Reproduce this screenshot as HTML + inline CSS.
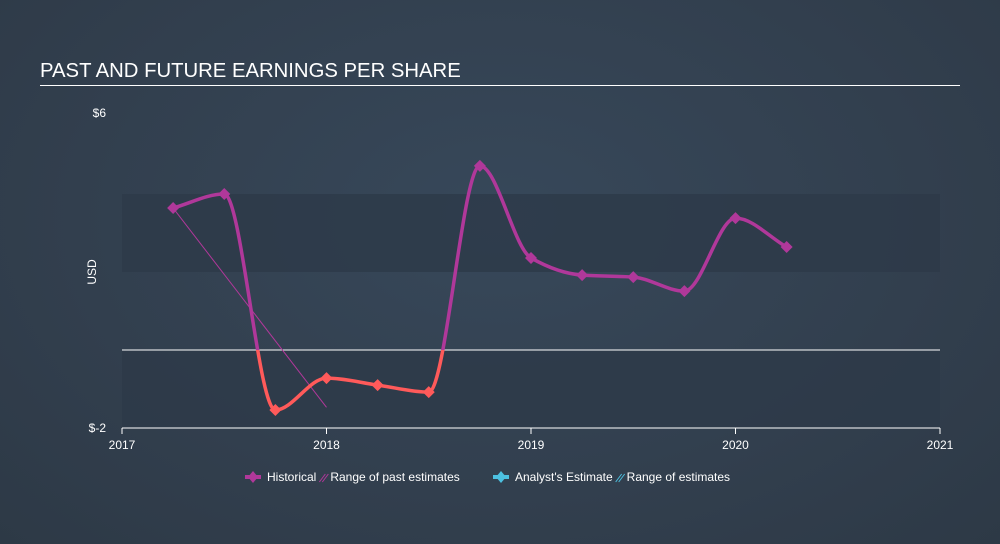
<!DOCTYPE html>
<html><head><meta charset="utf-8"><style>
html,body{margin:0;padding:0;}
body{width:1000px;height:544px;background:radial-gradient(ellipse at 50% 40%,#37485a 0%,#323f4e 60%,#2d3946 100%);font-family:"Liberation Sans",sans-serif;overflow:hidden;position:relative;}
.title{position:absolute;left:40px;top:60px;color:#fff;font-size:20.3px;}
.rule{position:absolute;left:40px;top:85px;width:920px;height:1px;background:#fff;}
</style></head><body>
<div class="title">PAST AND FUTURE EARNINGS PER SHARE</div>
<div class="rule"></div>
<svg id="chart" width="1000" height="544" style="position:absolute;left:0;top:0"></svg>
<script>
const years=[2017.25,2017.5,2017.75,2018.0,2018.25,2018.5,2018.75,2019.0,2019.25,2019.5,2019.75,2020.0,2020.25];
const eps=[3.64,4.0,-1.54,-0.72,-0.9,-1.08,4.72,2.36,1.92,1.87,1.51,3.38,2.64];
const pastRange=[[2017.25,3.64],[2018.0,-1.47]];
const xTicks=[2017,2018,2019,2020,2021];
const yTicks=[6,-2];
const yTickLabels=["$6","$-2"];
const X=v=>122+(v-2017)*204.5;
const Y=v=>350-v*39;
const NS="http://www.w3.org/2000/svg";
const svg=document.getElementById('chart');
function mk(t,a,p){const e=document.createElementNS(NS,t);for(const k in a)e.setAttribute(k,a[k]);(p||svg).appendChild(e);return e;}
let b1=mk('rect',{x:122,y:Y(4),width:818,height:Y(2)-Y(4),fill:'#2d3a48',opacity:0.8});


let b2=mk('rect',{x:122,y:Y(0),width:818,height:Y(-2)-Y(0),fill:'#2d3a48',opacity:0.8});


let z=mk('line',{x1:122,x2:940,y1:Y(0),y2:Y(0),stroke:'#fff','stroke-width':1});


let ax=mk('line',{x1:122,x2:940,y1:Y(-2),y2:Y(-2),stroke:'#fff','stroke-width':1});


xTicks.forEach(t=>{
 const l=mk('line',{x1:X(t),x2:X(t),y1:Y(-2),y2:Y(-2)+6,stroke:'#fff'});
 
 
 const tx=mk('text',{x:X(t),y:449,fill:'#fff','font-size':12,'text-anchor':'middle'});
 tx.textContent=t;
 
 
});
yTicks.forEach((t,i)=>{
 const tx=mk('text',{x:106,y:Y(t)+4,fill:'#fff','font-size':12,'text-anchor':'end'});
 tx.textContent=yTickLabels[i];
 if(t===6)tx.setAttribute('y',117);
 
 
});
const yt=mk('text',{x:96,y:Y(2),fill:'#fff','font-size':12,'text-anchor':'middle',transform:`rotate(-90 96 ${Y(2)})`});
yt.textContent='USD';


const rl=mk('line',{x1:X(pastRange[0][0]),y1:Y(pastRange[0][1]),x2:X(pastRange[1][0]),y2:Y(pastRange[1][1]),stroke:'#b0389a','stroke-width':1});


const px=years.map(X),py=eps.map(Y),n=px.length;
const d=[],m=[];
for(let i=0;i<n-1;i++)d.push((py[i+1]-py[i])/(px[i+1]-px[i]));
m[0]=d[0];m[n-1]=d[n-2];
for(let i=1;i<n-1;i++){m[i]=(d[i-1]*d[i]<=0)?0:2/(1/d[i-1]+1/d[i]);}
let p=`M${px[0]},${py[0]}`;
for(let i=0;i<n-1;i++){const h=(px[i+1]-px[i])/3;p+=`C${px[i]+h},${py[i]+m[i]*h} ${px[i+1]-h},${py[i+1]-m[i+1]*h} ${px[i+1]},${py[i+1]}`;}
const defs=mk('defs',{});
const c1=mk('clipPath',{id:'above'},defs);mk('rect',{x:0,y:0,width:1000,height:Y(0)},c1);
const c2=mk('clipPath',{id:'below'},defs);mk('rect',{x:0,y:Y(0),width:1000,height:300},c2);
const l1=mk('path',{d:p,fill:'none',stroke:'#b0389a','stroke-width':3.5,'clip-path':'url(#above)'});


const l2=mk('path',{d:p,fill:'none',stroke:'#ff5a5a','stroke-width':3.5,'clip-path':'url(#below)'});


years.forEach((yr,i)=>{
 const x=X(yr),y=Y(eps[i]);
 const dm=mk('path',{d:`M${x-6},${y}L${x},${y-6}L${x+6},${y}L${x},${y+6}Z`,fill:eps[i]<0?'#ff5a5a':'#b0389a'});
 
 
});
function legend(x,color,label1,label2,name){
 const g=mk('g',{});
 
 
 mk('rect',{x:x,y:475,width:16,height:4,fill:color},g);
 mk('path',{d:`M${x+8},${471}L${x+13},${477}L${x+8},${483}L${x+3},${477}Z`,fill:color},g);
 const t=mk('text',{x:x+22,y:481,fill:'#fff','font-size':12},g);t.textContent=label1;
 const w=x+22+t.getComputedTextLength()+3;
 mk('line',{x1:w,y1:482,x2:w+6,y2:474,stroke:color},g);
 mk('line',{x1:w+3,y1:482,x2:w+9,y2:474,stroke:color},g);
 const t2=mk('text',{x:w+11,y:481,fill:'#fff','font-size':12},g);t2.textContent=label2;
}
legend(245,'#b0389a','Historical','Range of past estimates','legend-historical');
legend(493,'#4cc0e0',"Analyst's Estimate",'Range of estimates','legend-analyst');
</script>
</body></html>
